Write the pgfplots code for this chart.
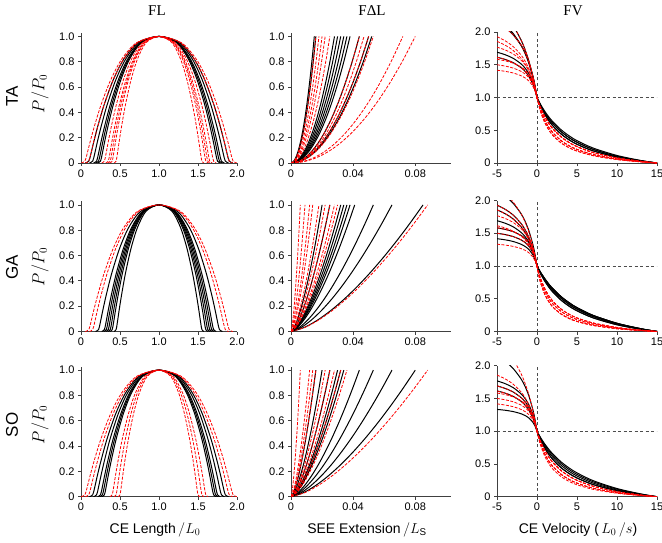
\documentclass[border=0pt]{standalone}
\usepackage{fontspec}
\setmainfont{Liberation Sans}
\newfontfamily\serif{Liberation Serif}
\usepackage{pgfplots}
\usepackage{pgfplotstable}
\pgfplotsset{compat=1.18}

% force-length curves, one x column per curve width
\pgfplotstableread{
y w45 w50 w55 w60 w625 w65 w675 w70 w725 w75 w775 w80 w85 w90 w95
0 0.5275 0.475 0.4225 0.37 0.3438 0.3175 0.2913 0.265 0.2388 0.2125 0.1863 0.16 0.1075 0.055 0.0025
0.015 0.55 0.5 0.45 0.4 0.375 0.35 0.325 0.3 0.275 0.25 0.225 0.2 0.15 0.1 0.05
0.073 0.5635 0.515 0.4665 0.418 0.3938 0.3695 0.3453 0.321 0.2968 0.2725 0.2483 0.224 0.1755 0.127 0.0785
0.166 0.5815 0.535 0.4885 0.442 0.4188 0.3955 0.3723 0.349 0.3258 0.3025 0.2793 0.256 0.2095 0.163 0.1165
0.294 0.6085 0.565 0.5215 0.478 0.4563 0.4345 0.4128 0.391 0.3693 0.3475 0.3258 0.304 0.2605 0.217 0.1735
0.463 0.649 0.61 0.571 0.532 0.5125 0.493 0.4735 0.454 0.4345 0.415 0.3955 0.376 0.337 0.298 0.259
0.659 0.7075 0.675 0.6425 0.61 0.5938 0.5775 0.5613 0.545 0.5288 0.5125 0.4963 0.48 0.4475 0.415 0.3825
0.823 0.775 0.75 0.725 0.7 0.6875 0.675 0.6625 0.65 0.6375 0.625 0.6125 0.6 0.575 0.55 0.525
0.951 0.865 0.85 0.835 0.82 0.8125 0.805 0.7975 0.79 0.7825 0.775 0.7675 0.76 0.745 0.73 0.715
1 1 1 1 1 1 1 1 1 1 1 1 1 1 1 1
0.951 1.135 1.15 1.165 1.18 1.1875 1.195 1.2025 1.21 1.2175 1.225 1.2325 1.24 1.255 1.27 1.285
0.823 1.225 1.25 1.275 1.3 1.3125 1.325 1.3375 1.35 1.3625 1.375 1.3875 1.4 1.425 1.45 1.475
0.659 1.2925 1.325 1.3575 1.39 1.4062 1.4225 1.4387 1.455 1.4712 1.4875 1.5037 1.52 1.5525 1.585 1.6175
0.463 1.351 1.39 1.429 1.468 1.4875 1.507 1.5265 1.546 1.5655 1.585 1.6045 1.624 1.663 1.702 1.741
0.294 1.3915 1.435 1.4785 1.522 1.5437 1.5655 1.5872 1.609 1.6307 1.6525 1.6742 1.696 1.7395 1.783 1.8265
0.166 1.4185 1.465 1.5115 1.558 1.5812 1.6045 1.6277 1.651 1.6742 1.6975 1.7207 1.744 1.7905 1.837 1.8835
0.073 1.4365 1.485 1.5335 1.582 1.6062 1.6305 1.6547 1.679 1.7032 1.7275 1.7517 1.776 1.8245 1.873 1.9215
0.015 1.45 1.5 1.55 1.6 1.625 1.65 1.675 1.7 1.725 1.75 1.775 1.8 1.85 1.9 1.95
0 1.4725 1.525 1.5775 1.63 1.6562 1.6825 1.7087 1.735 1.7612 1.7875 1.8137 1.84 1.8925 1.945 1.9975
}\FLtab

% SEE extension (x in units of 0.001) and force
\pgfplotstableread{
y2 y15 a6 a9 a12 a14 a15 a16 a18 a20 a22 a25 a28 a30 a32 a34 a36 a38 a41 a44 a47 a50 a52 a53 a58 a65 a72 a80 a85 a88
0 0 0 0 0 0 0 0 0 0 0 0 0 0 0 0 0 0 0 0 0 0 0 0 0 0 0 0 0 0
0.01 0.0316 0.6 0.9 1.2 1.4 1.5 1.6 1.8 2 2.2 2.5 2.8 3 3.2 3.4 3.6 3.8 4.1 4.4 4.7 5 5.2 5.3 5.8 6.5 7.2 8 8.5 8.8
0.04 0.0894 1.2 1.8 2.4 2.8 3 3.2 3.6 4 4.4 5 5.6 6 6.4 6.8 7.2 7.6 8.2 8.8 9.4 10 10.4 10.6 11.6 13 14.4 16 17 17.6
0.09 0.1643 1.8 2.7 3.6 4.2 4.5 4.8 5.4 6 6.6 7.5 8.4 9 9.6 10.2 10.8 11.4 12.3 13.2 14.1 15 15.6 15.9 17.4 19.5 21.6 24 25.5 26.4
0.16 0.253 2.4 3.6 4.8 5.6 6 6.4 7.2 8 8.8 10 11.2 12 12.8 13.6 14.4 15.2 16.4 17.6 18.8 20 20.8 21.2 23.2 26 28.8 32 34 35.2
0.25 0.3536 3 4.5 6 7 7.5 8 9 10 11 12.5 14 15 16 17 18 19 20.5 22 23.5 25 26 26.5 29 32.5 36 40 42.5 44
0.36 0.4648 3.6 5.4 7.2 8.4 9 9.6 10.8 12 13.2 15 16.8 18 19.2 20.4 21.6 22.8 24.6 26.4 28.2 30 31.2 31.8 34.8 39 43.2 48 51 52.8
0.49 0.5857 4.2 6.3 8.4 9.8 10.5 11.2 12.6 14 15.4 17.5 19.6 21 22.4 23.8 25.2 26.6 28.7 30.8 32.9 35 36.4 37.1 40.6 45.5 50.4 56 59.5 61.6
0.64 0.7155 4.8 7.2 9.6 11.2 12 12.8 14.4 16 17.6 20 22.4 24 25.6 27.2 28.8 30.4 32.8 35.2 37.6 40 41.6 42.4 46.4 52 57.6 64 68 70.4
0.81 0.8538 5.4 8.1 10.8 12.6 13.5 14.4 16.2 18 19.8 22.5 25.2 27 28.8 30.6 32.4 34.2 36.9 39.6 42.3 45 46.8 47.7 52.2 58.5 64.8 72 76.5 79.2
1 1 6 9 12 14 15 16 18 20 22 25 28 30 32 34 36 38 41 44 47 50 52 53 58 65 72 80 85 88
}\SEEtab

% force-velocity, lengthening side
\pgfplotstableread{
v L1 L2 L3 L4 L5 L6 L7 L8 L9 L10 L11 L12
-5 1.417 1.5 1.615 1.769 1.929 2.143 2.2 1.333 1.692 1.857 1.583 2.375
-4 1.4 1.48 1.582 1.727 1.867 2.067 2.107 1.32 1.654 1.8 1.56 2.257
-3 1.375 1.45 1.533 1.667 1.78 1.96 1.981 1.3 1.6 1.72 1.525 2.1
-2 1.333 1.4 1.457 1.571 1.65 1.8 1.8 1.267 1.514 1.6 1.467 1.88
-1.5 1.3 1.36 1.4 1.5 1.557 1.686 1.675 1.24 1.45 1.514 1.42 1.733
-1 1.25 1.3 1.32 1.4 1.433 1.533 1.514 1.2 1.36 1.4 1.35 1.55
-0.5 1.167 1.2 1.2 1.25 1.26 1.32 1.3 1.133 1.225 1.24 1.233 1.314
-0.25 1.1 1.12 1.114 1.143 1.144 1.178 1.164 1.08 1.129 1.133 1.14 1.169
0 1 1 1 1 1 1 1 1 1 1 1 1
}\FVleft

% force-velocity, shortening side
\pgfplotstableread{
v R10 R12 R15 R20 R25 R30 R35 R40
0 1 1 1 1 1 1 1 1
0.25 0.843 0.868 0.885 0.908 0.922 0.932 0.939 0.944
0.5 0.725 0.763 0.791 0.829 0.853 0.870 0.883 0.892
1 0.56 0.609 0.646 0.700 0.737 0.764 0.784 0.800
1.5 0.45 0.5 0.54 0.6 0.643 0.675 0.700 0.72
2 0.371 0.419 0.459 0.520 0.565 0.600 0.628 0.650
3 0.267 0.308 0.343 0.400 0.444 0.480 0.509 0.533
4 0.2 0.234 0.264 0.314 0.355 0.388 0.416 0.44
5 0.154 0.182 0.207 0.250 0.286 0.316 0.341 0.364
7 0.094 0.113 0.130 0.160 0.186 0.209 0.229 0.246
10 0.043 0.053 0.061 0.077 0.091 0.103 0.115 0.125
13 0.014 0.017 0.020 0.025 0.030 0.034 0.038 0.042
15 0 0 0 0 0 0 0 0
}\FVright

\pgfplotsset{
  base/.style={scale only axis, anchor=south west,
    axis lines=left, axis line style={-, line width=0.8pt, black!75},
    tick align=outside, major tick length=3pt,
    tick style={line width=0.8pt, black!75},
    ticklabel style={font=\fontsize{11}{13}\selectfont},
    /pgf/number format/assume math mode=true},
  flax/.style={base, width=156pt, height=130pt, xmin=0, xmax=2, ymin=0, ymax=1.027,
    xtick={0,0.5,1,1.5,2}, xticklabels={0,0.5,1.0,1.5,2.0},
    ytick={0,0.2,0.4,0.6,0.8,1}, yticklabels={0,0.2,0.4,0.6,0.8,1.0}},
  seeax/.style={base, width=160pt, height=130pt, xmin=0, xmax=103, ymin=0, ymax=1.027,
    xtick={0,40,80}, xticklabels={0,0.04,0.08},
    ytick={0,0.2,0.4,0.6,0.8,1}, yticklabels={0,0.2,0.4,0.6,0.8,1.0}},
  fvax/.style={base, width=160pt, height=131pt, xmin=-5, xmax=15, ymin=0, ymax=2,
    xtick={-5,0,5,10,15}, xticklabels={-5,0,5,10,15},
    ytick={0,0.5,1,1.5,2}, yticklabels={0,0.5,1.0,1.5,2.0}},
  bk/.style={black, line width=1pt, smooth},
  rd/.style={red, line width=0.8pt, dash pattern=on 3pt off 1.5pt, smooth},
  refl/.style={black!70, line width=0.7pt, dash pattern=on 3pt off 2.5pt},
}

\newcommand\flb[1]{\addplot[bk] table[x=#1,y=y]{\FLtab};}
\newcommand\flr[1]{\addplot[rd] table[x=#1,y=y]{\FLtab};}
\newcommand\seb[2]{\addplot[bk] table[x=#2,y=#1]{\SEEtab};}
\newcommand\ser[2]{\addplot[rd] table[x=#2,y=#1]{\SEEtab};}
\newcommand\fvb[2]{\addplot[bk] table[x=v,y=#1]{\FVleft};\addplot[bk] table[x=v,y=#2]{\FVright};}
\newcommand\fvr[2]{\addplot[rd] table[x=v,y=#1]{\FVleft};\addplot[rd] table[x=v,y=#2]{\FVright};}
\newcommand\fvref{\addplot[refl] coordinates {(-5,1) (15,1)};\addplot[refl] coordinates {(0,0) (0,2)};}

\begin{document}
\begin{tikzpicture}
\path[use as bounding box] (0,0) rectangle (662pt,542pt);

% ---------- row TA ----------
\begin{axis}[flax, at={(81pt,379pt)}]
\flb{w75}\flb{w775}\flb{w80}\flb{w85}\flb{w90}
\flr{w55}\flr{w60}\flr{w625}\flr{w65}\flr{w70}\flr{w90}\flr{w95}
\end{axis}
\begin{axis}[seeax, at={(291pt,379pt)}]
\seb{y2}{a15}\seb{y2}{a16}\seb{y2}{a28}\seb{y2}{a30}\seb{y2}{a32}\seb{y2}{a34}
\seb{y2}{a36}\seb{y2}{a38}\seb{y2}{a44}\seb{y2}{a50}\seb{y2}{a52}
\ser{y2}{a16}\ser{y2}{a18}\ser{y2}{a20}\ser{y2}{a22}\ser{y2}{a25}\ser{y2}{a44}
\ser{y2}{a47}\ser{y2}{a50}\ser{y2}{a53}\ser{y2}{a72}\ser{y2}{a80}
\end{axis}
\begin{axis}[fvax, at={(497pt,379pt)}]
\fvref
\fvb{L7}{R30}\fvb{L6}{R25}\fvb{L12}{R35}\fvb{L3}{R25}\fvb{L9}{R30}
\fvr{L12}{R15}\fvr{L6}{R20}\fvr{L10}{R15}\fvr{L4}{R20}\fvr{L3}{R12}
\fvr{L11}{R20}\fvr{L1}{R15}\fvr{L5}{R12}\fvr{L2}{R20}
\end{axis}

% ---------- row GA ----------
\begin{axis}[flax, at={(81pt,210.5pt)}]
\flb{w55}\flb{w60}\flb{w625}\flb{w65}\flb{w675}\flb{w70}\flb{w775}
\flr{w85}\flr{w90}
\end{axis}
\begin{axis}[seeax, at={(291pt,210.5pt)}]
\seb{y15}{a20}\seb{y15}{a25}\seb{y15}{a32}\seb{y15}{a34}\seb{y15}{a36}
\seb{y15}{a38}\seb{y15}{a41}\seb{y15}{a53}\seb{y15}{a65}\seb{y15}{a85}
\ser{y15}{a6}\ser{y15}{a9}\ser{y15}{a12}\ser{y15}{a14}\ser{y15}{a18}
\ser{y15}{a22}\ser{y15}{a25}\ser{y15}{a28}\ser{y15}{a30}\ser{y15}{a88}
\end{axis}
\begin{axis}[fvax, at={(497pt,210.5pt)}]
\fvref
\fvb{L6}{R40}\fvb{L5}{R35}\fvb{L10}{R30}\fvb{L9}{R40}\fvb{L11}{R35}\fvb{L2}{R30}\fvb{L1}{R40}
\fvr{L5}{R10}\fvr{L10}{R15}\fvr{L4}{R12}\fvr{L3}{R15}\fvr{L2}{R10}
\fvr{L8}{R12}\fvr{L11}{R15}\fvr{L7}{R10}
\end{axis}

% ---------- row SO ----------
\begin{axis}[flax, at={(81pt,45.3pt)}]
\flb{w70}\flb{w725}\flb{w75}\flb{w80}\flb{w85}
\flr{w50}\flr{w55}\flr{w60}\flr{w90}\flr{w95}
\end{axis}
\begin{axis}[seeax, at={(291pt,45.3pt)}]
\seb{y15}{a16}\seb{y15}{a20}\seb{y15}{a25}\seb{y15}{a30}\seb{y15}{a32}
\seb{y15}{a34}\seb{y15}{a44}\seb{y15}{a53}\seb{y15}{a65}\seb{y15}{a80}
\ser{y15}{a6}\ser{y15}{a12}\ser{y15}{a14}\ser{y15}{a16}\ser{y15}{a22}
\ser{y15}{a25}\ser{y15}{a28}\ser{y15}{a32}\ser{y15}{a36}\ser{y15}{a88}
\end{axis}
\begin{axis}[fvax, at={(497pt,45.3pt)}]
\fvref
\fvb{L6}{R30}\fvb{L4}{R40}\fvb{L9}{R25}\fvb{L3}{R35}\fvb{L8}{R25}
\fvr{L11}{R15}\fvr{L2}{R20}\fvr{L9}{R15}\fvr{L12}{R20}\fvr{L3}{R12}
\fvr{L1}{R20}\fvr{L10}{R15}
\end{axis}

% ---------- titles and labels ----------
\node[font=\serif\fontsize{15}{18}\selectfont] at (157pt,531pt) {FL};
\node[font=\serif\fontsize{15}{18}\selectfont] at (372pt,531pt) {F\symbol{"0394}L};
\node[font=\serif\fontsize{15}{18}\selectfont] at (573pt,531pt) {FV};

\node[rotate=90, font=\fontsize{17}{20}\selectfont] at (12pt,446pt) {TA};
\node[rotate=90, font=\fontsize{16}{18}\selectfont] at (40pt,448pt) {$P\big/P_0$};
\node[rotate=90, font=\fontsize{17}{20}\selectfont] at (12pt,275pt) {GA};
\node[rotate=90, font=\fontsize{16}{18}\selectfont] at (40pt,275pt) {$P\big/P_0$};
\node[rotate=90, font=\fontsize{17}{20}\selectfont] at (12pt,117pt) {SO};
\node[rotate=90, font=\fontsize{16}{18}\selectfont] at (40pt,117pt) {$P\big/P_0$};

\node[font=\fontsize{14}{16}\selectfont] at (155pt,12pt) {CE Length$\,\big/L_0$};
\node[font=\fontsize{14}{16}\selectfont] at (367pt,12pt) {SEE Extension$\,\big/L_{\mathrm{S}}$};
\node[font=\fontsize{14}{16}\selectfont] at (578pt,12pt) {CE Velocity ($\,L_0\,/s$)};
\end{tikzpicture}
\end{document}
